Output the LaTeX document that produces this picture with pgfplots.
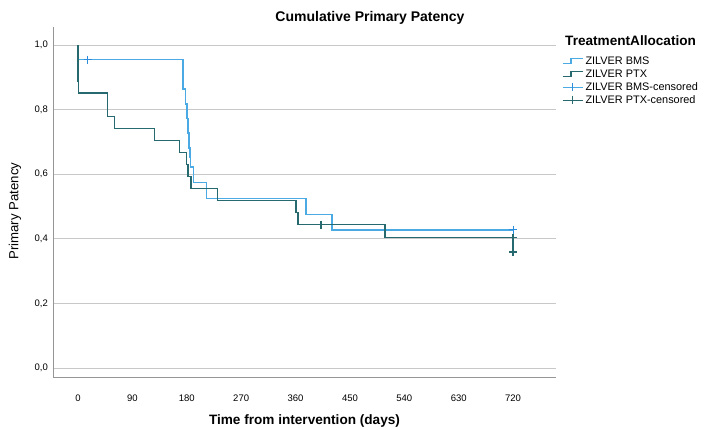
\documentclass[border=0pt]{standalone}
\usepackage{pgfplots}
\pgfplotsset{compat=1.18}
\usepackage{fontspec}
\setmainfont{Liberation Sans}
\definecolor{bmsc}{RGB}{75,170,228}
\definecolor{bmsm}{RGB}{45,140,220}
\definecolor{ptxc}{RGB}{38,105,110}
\definecolor{gridc}{RGB}{200,200,200}
\definecolor{axc}{RGB}{150,150,150}
\begin{document}
\begin{tikzpicture}
\useasboundingbox (-53pt,-52pt) rectangle (652pt,377pt);
\begin{axis}[
  scale only axis,
  width=503pt, height=350pt,
  xmin=-41.4, xmax=791,
  ymin=-0.028, ymax=1.056,
  axis lines*=left,
  axis line style={axc, line width=0.8pt},
  xtick={0,90,180,270,360,450,540,630,720},
  ytick={0,0.2,0.4,0.6,0.8,1.0},
  major tick length=0pt,
  ymajorgrids,
  grid style={gridc, line width=0.9pt},
  /pgf/number format/assume math mode=true,
  yticklabel style={/pgf/number format/use comma, /pgf/number format/fixed, /pgf/number format/fixed zerofill, /pgf/number format/precision=1},
  yticklabel style={font=\fontsize{9.5}{10}\selectfont, inner sep=0pt, anchor=east, xshift=-5pt},
  xticklabel style={font=\fontsize{9.5}{10}\selectfont, inner sep=0pt, anchor=center, yshift=-21pt},
  xlabel={\textbf{Time from intervention (days)}},
  xlabel style={font=\fontsize{13.6}{15}\selectfont, at={(axis description cs:0.5,0)}, anchor=center, yshift=-44pt},
  ylabel={Primary Patency},
  ylabel style={font=\fontsize{13.2}{15}\selectfont, at={(axis description cs:-0.0755,0.474)}, anchor=center},
  clip=false,
  legend cell align=left,
  legend style={at={(axis description cs:1,1)}, anchor=north west, xshift=6pt, yshift=-29pt,
    draw=none, fill=none, inner sep=0pt, row sep=3pt,
    font=\fontsize{10.9}{12}\selectfont,
    nodes={inner sep=0pt, text height=8pt, text depth=2pt},
    column sep=2pt},
]
\addplot[draw=bmsc, line width=1.5pt,
  legend image code/.code={\draw[draw=bmsc, line width=1.3pt] (0pt,-2.5pt) -- (8pt,-2.5pt) -- (8pt,2.5pt) -- (20pt,2.5pt);}]
  coordinates {
  (0,1.0) (0,0.955) (174,0.955) (174,0.864) (178,0.864) (178,0.818)
  (180,0.818) (180,0.773) (182,0.773) (182,0.727) (184,0.727) (184,0.682)
  (185,0.682) (185,0.652) (186,0.652) (186,0.622) (191,0.622) (191,0.574)
  (213,0.574) (213,0.525) (377,0.525) (377,0.476) (420,0.476) (420,0.428)
  (720,0.428)};
\addlegendentry{ZILVER BMS}
\addplot[draw=ptxc, line width=1.4pt,
  legend image code/.code={\draw[draw=ptxc, line width=1.3pt] (0pt,-2.5pt) -- (8pt,-2.5pt) -- (8pt,2.5pt) -- (20pt,2.5pt);}]
  coordinates {
  (0,1.0) (0,0.889) (1,0.889) (1,0.852) (49,0.852) (49,0.778)
  (60,0.778) (60,0.741) (127,0.741) (127,0.704) (168,0.704) (168,0.667)
  (180,0.667) (180,0.630) (182,0.630) (182,0.593) (187,0.593) (187,0.556)
  (231,0.556) (231,0.519) (361,0.519) (361,0.481) (364,0.481) (364,0.444)
  (508,0.444) (508,0.404) (720,0.404) (720,0.359)};
\addlegendentry{ZILVER PTX}
\addplot[draw=bmsm, only marks, mark=+, mark size=4pt, mark options={draw=bmsm, line width=1.2pt},
  legend image code/.code={\draw[draw=bmsc, line width=1.3pt] (0pt,0pt) -- (20pt,0pt); \draw[draw=bmsm, line width=1.1pt] (10pt,-4pt) -- (10pt,4pt);}]
  coordinates {(16,0.955) (720,0.428)};
\addlegendentry{ZILVER BMS-censored}
\addplot[draw=ptxc, only marks, mark=+, mark size=4pt, mark options={draw=ptxc, line width=1.3pt},
  legend image code/.code={\draw[draw=ptxc, line width=1.3pt] (0pt,0pt) -- (20pt,0pt); \draw[draw=ptxc, line width=1.2pt] (10pt,-4pt) -- (10pt,4pt);}]
  coordinates {(402,0.444) (720,0.404) (720,0.359)};
\addlegendentry{ZILVER PTX-censored}
\node[anchor=west, inner sep=0pt, font=\fontsize{13.6}{15}\selectfont\bfseries] at ([xshift=9pt, yshift=-14pt]rel axis cs:1,1) {TreatmentAllocation};
\node[anchor=center, inner sep=0pt, font=\fontsize{14}{15}\selectfont\bfseries] at ([xshift=317pt, yshift=9pt]rel axis cs:0,1) {Cumulative Primary Patency};
\end{axis}
\end{tikzpicture}
\end{document}
